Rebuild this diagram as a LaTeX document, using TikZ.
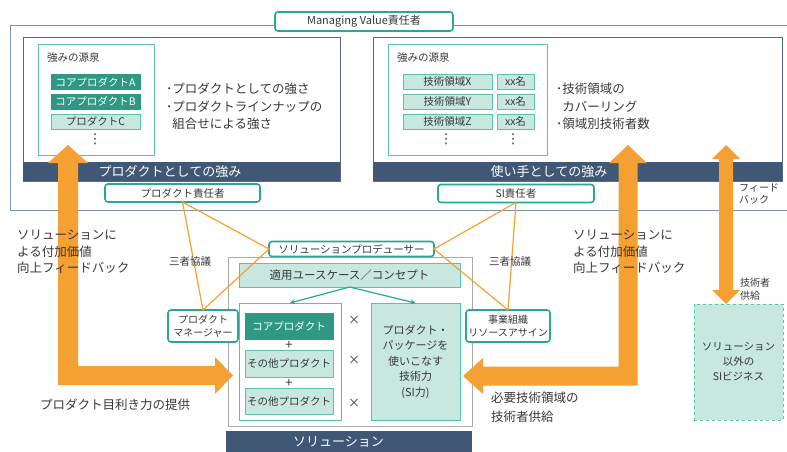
\documentclass[tikz,border=0pt]{standalone}
\usepackage{fontspec}
\setmainfont{Noto Sans CJK JP}
\newfontfamily\dejavu{DejaVu Sans}
\usetikzlibrary{arrows.meta}
\definecolor{navy}{RGB}{64,88,118}
\definecolor{teal1}{RGB}{38,168,148}
\definecolor{tealdark}{RGB}{46,152,132}
\definecolor{teallight}{RGB}{200,231,223}
\definecolor{tealline}{RGB}{90,195,172}
\definecolor{orng}{RGB}{245,160,50}
\definecolor{outerc}{RGB}{125,145,170}
\definecolor{innerc}{RGB}{85,105,135}
\definecolor{solc}{RGB}{170,170,170}
\definecolor{txt}{RGB}{55,55,55}
\newcommand{\fsz}[2]{\fontsize{#1}{#2}\selectfont}
\tikzset{
  bx/.style={inner sep=0pt, outer sep=0pt, anchor=center, text=txt},
  lbl/.style={bx, draw=teal1, line width=1.6pt, rounded corners=3pt, fill=white, font=\fsz{10.5}{13}},
  bar/.style={bx, fill=navy},
  bartext/.style={inner sep=0pt, text=white, font=\fsz{13}{15}},
  srcbox/.style={bx, draw=tealline, line width=1pt, fill=white},
  item/.style={bx, draw=tealline, line width=1pt, fill=teallight, font=\fsz{10.5}{12}},
  itemdark/.style={bx, draw=tealdark, line width=1pt, fill=tealdark, text=white, font=\fsz{10.5}{12}},
  tx/.style={inner sep=0pt, text=txt, align=left},
  dotsty/.style={inner sep=0pt, text=txt, font=\dejavu\fsz{13.5}{13.5}},
  tri/.style={draw=orng, line width=1.2pt},
  big/.style={fill=orng, draw=none},
  tarrow/.style={draw=teal1, line width=1.2pt, -{Stealth[length=5pt,width=5pt]}}
}
\begin{document}
\begin{tikzpicture}[x=1pt,y=-1pt]
\useasboundingbox (0,0) rectangle (787,452);
\fill[white] (0,0) rectangle (787,452);
% outer managing value box
\draw[outerc, line width=1pt] (790,26) -- (10,26) -- (10,210) -- (790,210);
\node[lbl, minimum width=178pt, minimum height=19pt, font=\fsz{11}{13}] (mv) at (364,21.5) {Managing Value責任者};
% left strength box
\node[bx, draw=innerc, line width=1pt, fill=white, minimum width=317pt, minimum height=143pt] (lbox) at (181.5,109.5) {};
\node[bar, minimum width=317pt, minimum height=19pt] (lbar) at (181.5,171.5) {};
\node[bartext] (lbart) at (170,171.5) {プロダクトとしての強み};
\node[srcbox, minimum width=116pt, minimum height=110pt] (lsrc) at (96,100) {};
\node[tx, anchor=west, font=\fsz{10.5}{12}] (lsrct) at (47,58) {強みの源泉};
\node[itemdark, minimum width=89pt, minimum height=14pt] (ca) at (95.5,82) {コアプロダクトA};
\node[itemdark, minimum width=89pt, minimum height=15pt] (cb) at (95.5,101.5) {コアプロダクトB};
\node[item, minimum width=89pt, minimum height=15pt] (pc) at (95.5,121.5) {プロダクトC};
\node[dotsty] (ldots) at (95,139.5) {⋮};
\node[tx, anchor=west, font=\fsz{12.5}{17.5}] (ltext) at (166,106.5) {･プロダクトとしての強さ\\･プロダクトラインナップの\\\phantom{･}組合せによる強さ};
% right strength box
\node[bx, draw=innerc, line width=1pt, fill=white, minimum width=409pt, minimum height=143pt] (rbox) at (577.5,109.5) {};
\node[bar, minimum width=409pt, minimum height=19pt] (rbar) at (577.5,171.5) {};
\node[bartext] (rbart) at (549,171.5) {使い手としての強み};
\node[srcbox, minimum width=159pt, minimum height=110pt] (rsrc) at (467.5,100) {};
\node[tx, anchor=west, font=\fsz{10.5}{12}] (rsrct) at (397,58) {強みの源泉};
\node[item, minimum width=89pt, minimum height=14pt] (tx1) at (447.5,82) {技術領域X};
\node[item, minimum width=89pt, minimum height=15pt] (tx2) at (447.5,101.5) {技術領域Y};
\node[item, minimum width=89pt, minimum height=15pt] (tx3) at (447.5,121.5) {技術領域Z};
\node[item, minimum width=37pt, minimum height=14pt] (n1) at (515.5,82) {xx名};
\node[item, minimum width=37pt, minimum height=15pt] (n2) at (515.5,101.5) {xx名};
\node[item, minimum width=37pt, minimum height=15pt] (n3) at (515.5,121.5) {xx名};
\node[dotsty] (rdots1) at (446,139.5) {⋮};
\node[dotsty] (rdots2) at (513,139.5) {⋮};
\node[tx, anchor=west, font=\fsz{12.5}{17.5}] (rtext) at (556,106.5) {･技術領域の\\\phantom{･}カバーリング\\･領域別技術者数};
% responsible persons
\node[lbl, minimum width=155pt, minimum height=18pt] (pr) at (182.5,193) {プロダクト責任者};
\node[lbl, minimum width=156pt, minimum height=18pt] (si) at (516,193.5) {SI責任者};
% solution box
\node[bx, draw=solc, line width=1pt, fill=white, minimum width=244pt, minimum height=169pt] (sol) at (350,341.5) {};
\node[lbl, minimum width=165pt, minimum height=15pt, font=\fsz{10.5}{12}] (prod) at (351.5,249) {ソリューションプロデューサー};
\node[item, minimum width=221pt, minimum height=24pt, font=\fsz{11.5}{13}] (uc) at (349.5,275) {適用ユースケース／コンセプト};
\node[bx, draw=tealline, line width=1pt, fill=white, minimum width=102pt, minimum height=117pt] (lp) at (290,361.5) {};
\node[itemdark, minimum width=88pt, minimum height=26pt] (core) at (289,326) {コアプロダクト};
\node[item, minimum width=88pt, minimum height=27pt] (o1) at (289,363.5) {その他プロダクト};
\node[item, minimum width=88pt, minimum height=26pt] (o2) at (289,401) {その他プロダクト};
\node[tx, font=\fsz{13}{13}] (pl1) at (289,345) {+};
\node[tx, font=\fsz{13}{13}] (pl2) at (289,383) {+};
\node[tx, font=\fsz{12}{12}] (x1) at (354,320) {×};
\node[tx, font=\fsz{12}{12}] (x2) at (354,360) {×};
\node[tx, font=\fsz{12}{12}] (x3) at (354,403) {×};
\node[item, minimum width=89pt, minimum height=117pt, align=center, font=\fsz{11}{15.5}] (sk) at (415.5,361.5) {プロダクト・\\パッケージを\\使いこなす\\技術力\\(SI力)};
\draw[tarrow] (uc.south) -- (lp.north);
\draw[tarrow] (uc.south) -- (sk.north);
\node[bar, minimum width=246pt, minimum height=22pt] (solbar) at (349,442) {};
\node[bartext] (solbart) at (338.5,441.5) {ソリューション};
% managers
\node[lbl, minimum width=70pt, minimum height=32pt, align=center, font=\fsz{10}{12.5}] (pm) at (203,326) {プロダクト\\マネージャー};
\node[lbl, minimum width=84pt, minimum height=32pt, align=center, font=\fsz{10}{12.5}] (biz) at (508,326) {事業組織\\リソースアサイン};
% triangles
\draw[tri] (pr.south) -- (prod.west) -- (pm.north) -- cycle;
\draw[tri] (si.south) -- (prod.east) -- (biz.north) -- cycle;
\node[tx, font=\fsz{10.5}{12}] (t3l) at (190,262) {三者協議};
\node[tx, font=\fsz{10.5}{12}] (t3r) at (510,262) {三者協議};
% SI business box
\node[bx, draw=tealline, dashed, line width=1pt, fill=teallight, minimum width=89pt, minimum height=116pt, align=center, font=\fsz{10.5}{15}] (sib) at (738.5,362) {ソリューション\\以外の\\SIビジネス};
% big orange arrows
\fill[big] (68,145) -- (88,163) -- (78,163) -- (78,366) -- (215,366) -- (215,357) -- (233,375.5) -- (215,394) -- (215,385) -- (58,385) -- (58,163) -- (48,163) -- cycle;
\fill[big] (628,145) -- (647,163) -- (637.5,163) -- (637.5,385.5) -- (483,385.5) -- (483,394) -- (463,376) -- (483,358) -- (483,366.5) -- (618.5,366.5) -- (618.5,163) -- (609,163) -- cycle;
\fill[big] (726,145) -- (740,159) -- (733,159) -- (733,290) -- (740,290) -- (726,304) -- (712,290) -- (719,290) -- (719,159) -- (712,159) -- cycle;
% texts
\node[tx, anchor=west, font=\fsz{12.5}{16.5}] (fbl) at (17,252) {ソリューションに\\よる付加価値\\向上フィードバック};
\node[tx, anchor=west, font=\fsz{12.5}{16.5}] (fbr) at (573,252) {ソリューションに\\よる付加価値\\向上フィードバック};
\node[tx, anchor=west, font=\fsz{12.5}{15}] (mek) at (40,405) {プロダクト目利き力の提供};
\node[tx, anchor=west, font=\fsz{12.5}{19}] (sup) at (491,407.5) {必要技術領域の\\技術者供給};
\node[tx, anchor=west, font=\fsz{10}{12.5}] (fdb) at (739,194) {フィード\\バック};
\node[tx, anchor=west, font=\fsz{10}{12.5}] (gis) at (740,289) {技術者\\供給};
\end{tikzpicture}
\end{document}
